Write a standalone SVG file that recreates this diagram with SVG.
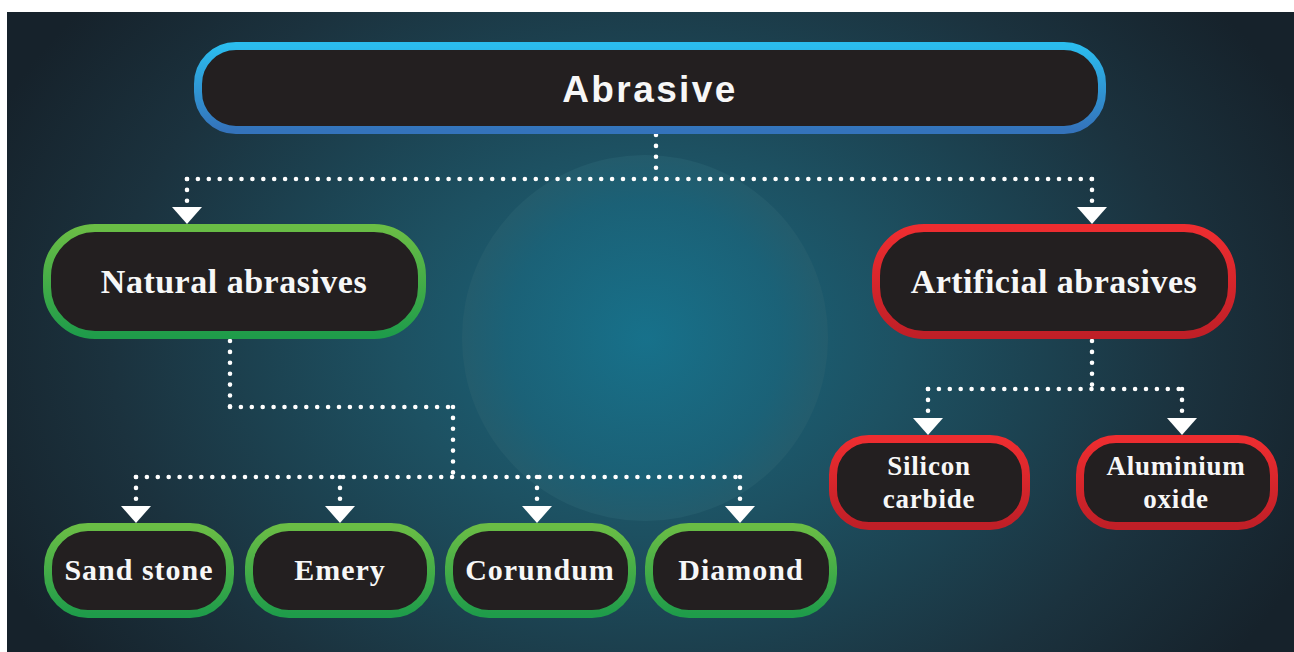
<svg xmlns="http://www.w3.org/2000/svg" xmlns:xlink="http://www.w3.org/1999/xlink" width="1294" height="652" viewBox="0 0 1294 652">
<defs>
<radialGradient id="bg" gradientUnits="userSpaceOnUse" cx="650" cy="340" r="720" gradientTransform="translate(650 340) scale(1 0.75) translate(-650 -340)">
<stop offset="0" stop-color="#186a82"/>
<stop offset="0.35" stop-color="#1d5162"/>
<stop offset="0.75" stop-color="#1b323e"/>
<stop offset="1" stop-color="#16222b"/>
</radialGradient>
<radialGradient id="glow" cx="0.5" cy="0.5" r="0.5">
<stop offset="0" stop-color="#17738d"/>
<stop offset="0.75" stop-color="#1b6379"/>
<stop offset="1" stop-color="#255d6d"/>
</radialGradient>
<linearGradient id="gBlue" x1="0" y1="0" x2="0" y2="1">
<stop offset="0" stop-color="#2bbcee"/>
<stop offset="1" stop-color="#3473bb"/>
</linearGradient>
<linearGradient id="gGreen" x1="0" y1="0" x2="0" y2="1">
<stop offset="0" stop-color="#6abd45"/>
<stop offset="1" stop-color="#1f9c4a"/>
</linearGradient>
<linearGradient id="gRed" x1="0" y1="0" x2="0" y2="1">
<stop offset="0" stop-color="#ee2d30"/>
<stop offset="1" stop-color="#c01f27"/>
</linearGradient>
<path id="arr" d="M-15,0 H15 L0,17 Z" fill="#ffffff"/>
<style>
.box{fill:#231f20;stroke-width:8}
.blue{stroke:url(#gBlue)}
.green{stroke:url(#gGreen)}
.red{stroke:url(#gRed)}
.dot{fill:none;stroke:#ffffff;stroke-width:4.6;stroke-linecap:round;stroke-dasharray:0 10.9}
.t{fill:#f7f7f7;font-family:"Liberation Serif","Times New Roman",serif;font-weight:bold;text-anchor:middle}
.big{font-size:34px;letter-spacing:0.5px}
.mid{font-size:30px;letter-spacing:1px}
.sm{font-size:27px;letter-spacing:0.8px}
.title{fill:#f7f7f7;font-family:"Liberation Sans",Arial,sans-serif;font-weight:bold;font-size:37px;letter-spacing:2.4px;text-anchor:middle}
</style>
</defs>
<rect x="0" y="0" width="1294" height="652" fill="#ffffff"/>
<rect x="7" y="12" width="1287" height="640" fill="url(#bg)"/>
<circle cx="645" cy="338" r="183" fill="url(#glow)" opacity="0.8"/>

<g id="connectors">
<path class="dot" d="M656,135 V179"/>
<path class="dot" d="M187,179 H1092"/>
<path class="dot" d="M187,179 V203"/>
<path class="dot" d="M1092,179 V203"/>
<use href="#arr" x="187" y="207"/>
<use href="#arr" x="1092" y="207"/>

<path class="dot" d="M230,341 V407"/>
<path class="dot" d="M230,407 H453"/>
<path class="dot" d="M453,407 V477"/>
<path class="dot" d="M136,477 H740"/>
<path class="dot" d="M136,477 V502"/>
<path class="dot" d="M340,477 V502"/>
<path class="dot" d="M537,477 V502"/>
<path class="dot" d="M740,477 V502"/>
<use href="#arr" x="136" y="506"/>
<use href="#arr" x="340" y="506"/>
<use href="#arr" x="537" y="506"/>
<use href="#arr" x="740" y="506"/>

<path class="dot" d="M1092,341 V389"/>
<path class="dot" d="M928,389 H1182"/>
<path class="dot" d="M928,389 V414"/>
<path class="dot" d="M1182,389 V414"/>
<use href="#arr" x="928" y="418"/>
<use href="#arr" x="1182" y="418"/>
</g>

<g id="node-abrasive">
<rect class="box blue" x="198" y="46" width="904" height="84" rx="38"/>
<text class="title" x="650" y="102">Abrasive</text>
</g>

<g id="node-natural">
<rect class="box green" x="47" y="228" width="375" height="107" rx="48"/>
<text class="t big" x="234" y="293">Natural abrasives</text>
</g>

<g id="node-artificial">
<rect class="box red" x="876" y="228" width="356" height="107" rx="48"/>
<text class="t big" x="1054" y="293">Artificial abrasives</text>
</g>

<g id="node-sandstone">
<rect class="box green" x="48" y="527" width="182" height="87" rx="40"/>
<text class="t mid" x="139" y="580">Sand stone</text>
</g>

<g id="node-emery">
<rect class="box green" x="249" y="527" width="182" height="87" rx="40"/>
<text class="t mid" x="340" y="580">Emery</text>
</g>

<g id="node-corundum">
<rect class="box green" x="449" y="527" width="183" height="87" rx="40"/>
<text class="t mid" x="540" y="580">Corundum</text>
</g>

<g id="node-diamond">
<rect class="box green" x="649" y="527" width="184" height="87" rx="40"/>
<text class="t mid" x="741" y="580">Diamond</text>
</g>

<g id="node-silicon">
<rect class="box red" x="833" y="439" width="193" height="87" rx="36"/>
<text class="t sm" x="929" y="475">Silicon</text>
<text class="t sm" x="929" y="508">carbide</text>
</g>

<g id="node-aluminium">
<rect class="box red" x="1080" y="439" width="194" height="87" rx="36"/>
<text class="t sm" x="1176" y="475">Aluminium</text>
<text class="t sm" x="1176" y="508">oxide</text>
</g>
</svg>
